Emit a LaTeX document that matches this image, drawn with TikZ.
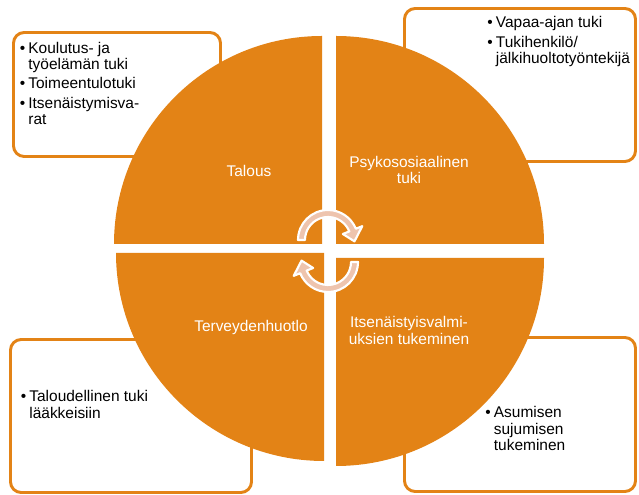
\documentclass[tikz,border=0pt]{standalone}
\usepackage{fontspec}
\setmainfont{Liberation Sans}
\usetikzlibrary{positioning}

\definecolor{segorange}{RGB}{227,131,22}
\definecolor{arrowpink}{RGB}{238,196,174}

% bullet list set as a tabular, baseline on the first row
\newcommand{\bulletlist}[1]{\begin{tabular}[t]{@{}l@{\hspace{2.4pt}}l@{}}#1\end{tabular}}
\newcommand{\twolines}[1]{\begin{tabular}[t]{@{}c@{}}#1\end{tabular}}

\begin{document}
\begin{tikzpicture}[
    x=0.75pt, y=0.75pt,
    font=\fontsize{11.6}{12}\selectfont,
    info box/.style={
        draw=segorange,
        fill=white,
        line width=2.2pt,
        rounded corners=8pt
    },
    quarter/.style={
        fill=segorange
    },
    list text/.style={
        inner sep=0pt,
        anchor=base west,
        text=black
    },
    segment label/.style={
        inner sep=0pt,
        anchor=base,
        text=white
    },
    cycle arrow/.style={
        fill=arrowpink,
        draw=white,
        line width=1.6pt,
        line join=round
    }
]
    \useasboundingbox (0,0) rectangle (639,495);

    % --- side boxes (behind the circle) ---
    \draw[info box] (13.5,462.5) rectangle (220.5,338.5);
    \draw[info box] (404.5,486.5) rectangle (635.5,333.5);
    \draw[info box] (10.5,155.5) rectangle (251.5,2.5);
    \draw[info box] (404.5,157.5) rectangle (635.5,3.5);

    % --- four quarters ---
    \fill[quarter] (322,251) -- (114,251) arc[start angle=180, end angle=90, radius=208] -- cycle;
    \fill[quarter] (336,251) -- (336,459) arc[start angle=90, end angle=0, radius=208] -- cycle;
    \fill[quarter] (324,242) -- (116,242) arc[start angle=180, end angle=270, radius=208] -- cycle;
    \fill[quarter] (336,237) -- (544,237) arc[start angle=0, end angle=-90, radius=208] -- cycle;

    % --- quarter labels ---
    \node[segment label] (talous) at (249,318.3) {Talous};
    \node[segment label] (psyko) at (409,327) {\twolines{Psykososiaalinen\\tuki}};
    \node[segment label] (terveys) at (251,163.3) {Terveydenhuotlo};
    \node[segment label] (valmius) at (409,167) {\twolines{Itsenäistyisvalmi-\\uksien tukeminen}};

    % --- box texts ---
    \node[list text] (talous list) at (19.5,441.7)
        {\bulletlist{•&Koulutus- ja\\ &työelämän tuki\\[2.7pt]•&Toimeentulotuki\\[2.7pt]•&Itsenäistymisva-\\ &rat}};
    \node[list text] (psyko list) at (487,467)
        {\bulletlist{•&Vapaa-ajan tuki\\[2.7pt]•&Tukihenkilö/\\ &jälkihuoltotyöntekijä}};
    \node[list text] (terveys list) at (20.5,93)
        {\bulletlist{•&Taloudellinen tuki\\ &lääkkeisiin}};
    \node[list text] (valmius list) at (485,77)
        {\bulletlist{•&Asumisen\\ &sujumisen\\ &tukeminen}};

    % --- cycle arrows in the middle ---
    \begin{scope}[shift={(328,255)}]
        \filldraw[cycle arrow] (180:23) -- (180:30)
            arc[start angle=180, end angle=22, radius=30]
            -- (22:37) -- (-3:26.5) -- (22:16) -- (22:23)
            arc[start angle=22, end angle=180, radius=23] -- cycle;
    \end{scope}
    \begin{scope}[shift={(328,233)}]
        \filldraw[cycle arrow] (0:23) -- (0:30)
            arc[start angle=0, end angle=-158, radius=30]
            -- (-158:37) -- (177:26.5) -- (-158:16) -- (-158:23)
            arc[start angle=-158, end angle=0, radius=23] -- cycle;
    \end{scope}

\end{tikzpicture}
\end{document}
